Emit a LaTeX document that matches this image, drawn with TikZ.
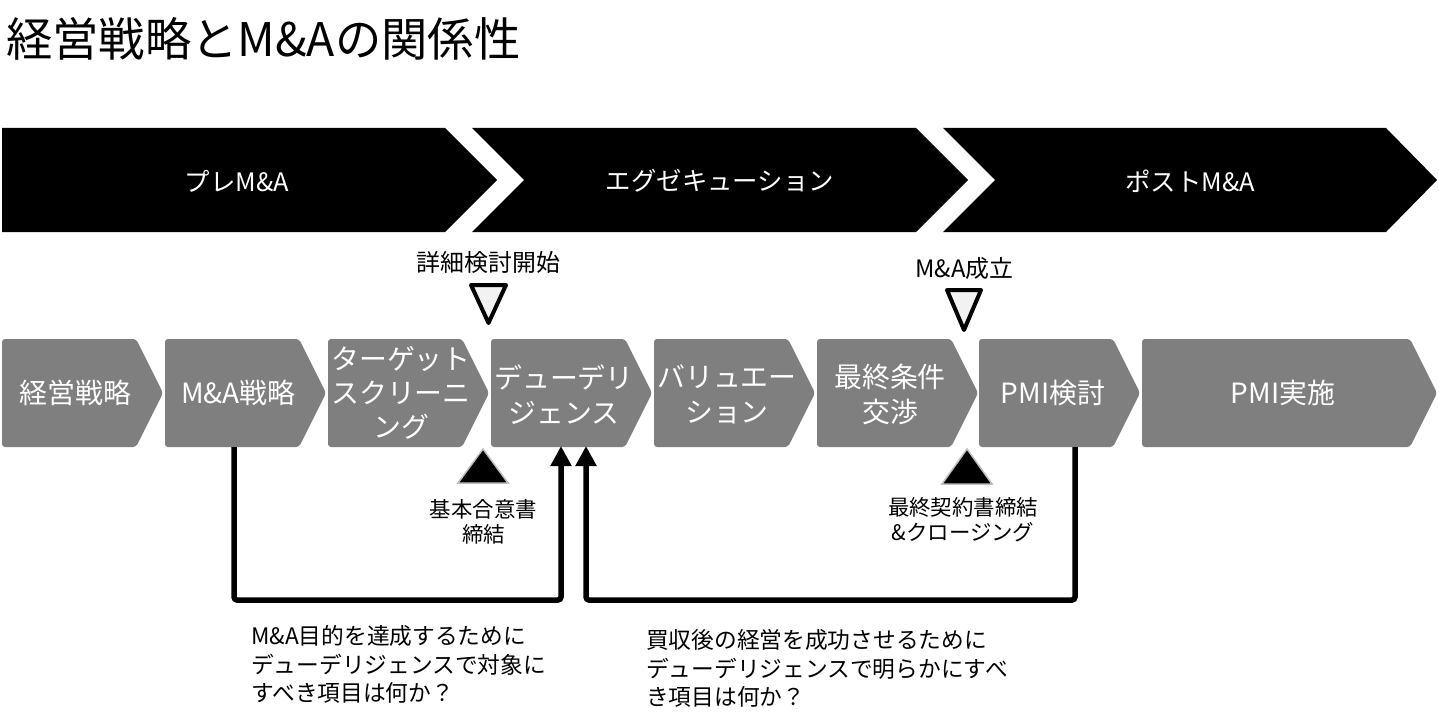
\documentclass[tikz,border=0pt]{standalone}
\usepackage{fontspec}
\newfontfamily\jp{Noto Sans CJK JP}
\usetikzlibrary{arrows.meta}
\definecolor{stagegray}{HTML}{7F7F7F}
\definecolor{trifill}{HTML}{F2F2F2}
\definecolor{trioutline}{HTML}{BFBFBF}
\newcommand\stagebox[3]{% #1 left, #2 tip x, #3 top-right x
  \fill[stage] (#1,339) -- (#3,339) -- (#2,393) -- (#3,447) -- (#1,447) -- cycle;}
\begin{document}
\begin{tikzpicture}[x=1bp,y=-1bp,
  phase/.style={fill=black},
  stage/.style={fill=stagegray, rounded corners=3bp},
  phaselbl/.style={font=\jp\fontsize{25.5}{30}\selectfont, text=white, inner sep=0},
  stagelbl/.style={font=\jp\fontsize{28}{34.5}\selectfont, text=white, align=center, inner sep=0},
  milelbl/.style={font=\jp\fontsize{24}{28}\selectfont, inner sep=0},
  sublbl/.style={font=\jp\fontsize{21.5}{25}\selectfont, align=center, inner sep=0},
  notelbl/.style={font=\jp\fontsize{22.8}{28.5}\selectfont, align=left, anchor=west, inner sep=0},
  opentri/.style={draw=black, fill=trifill, line width=4bp, line join=round},
  solidtri/.style={fill=black, draw=trioutline, line width=1.5bp},
  conn/.style={line width=5.5bp, rounded corners=3bp, -{Triangle[width=20bp,length=20bp]}}
]
\useasboundingbox (0,0) rectangle (1439,726);
\fill[white] (0,0) rectangle (1439,726);

% title
\node[font=\jp\fontsize{46.5}{52}\selectfont, anchor=west, inner sep=0] (title) at (6,39) {経営戦略とM\&Aの関係性};

% phase chevrons
\fill[phase] (2,128) -- (445,128) -- (497,180) -- (445,232) -- (2,232) -- cycle;
\fill[phase] (472,128) -- (916,128) -- (968,180) -- (916,232) -- (472,232) -- (524,180) -- cycle;
\fill[phase] (943,128) -- (1386,128) -- (1437,180) -- (1386,232) -- (943,232) -- (995,180) -- cycle;
\node[phaselbl] (p1) at (237,181) {プレM\&A};
\node[phaselbl] (p2) at (720,181) {エグゼキューション};
\node[phaselbl] (p3) at (1190,181) {ポストM\&A};

% stage boxes
\stagebox{2}{163}{136}
\stagebox{165}{326}{299}
\stagebox{328}{489}{462}
\stagebox{491}{652}{625}
\stagebox{654}{815}{788}
\stagebox{817}{978}{951}
\stagebox{979}{1140}{1113}
\stagebox{1142}{1437}{1410}
\node[stagelbl] (s1) at (75.5,393) {経営戦略};
\node[stagelbl] (s2) at (238.5,393) {M\&A戦略};
\node[stagelbl] (s3) at (401,393) {ターゲット\\スクリーニ\\ング};
\node[stagelbl] (s4) at (564,394.5) {デューデリ\\ジェンス};
\node[stagelbl] (s5) at (727,394.5) {バリュエー\\ション};
\node[stagelbl] (s6) at (890,394.5) {最終条件\\交渉};
\node[stagelbl] (s7) at (1053,393) {PMI検討};
\node[stagelbl] (s8) at (1283,393) {PMI実施};

% milestones above
\node[milelbl] (m1) at (488.5,262) {詳細検討開始};
\node[milelbl] (m2) at (964.5,268) {M\&A成立};
\draw[opentri] (471,285) -- (506,285) -- (488.5,323) -- cycle;
\draw[opentri] (947,290) -- (981,290) -- (964,330) -- cycle;

% milestones below
\filldraw[solidtri] (483,449) -- (508,483) -- (458,483) -- cycle;
\filldraw[solidtri] (967,449) -- (992,484) -- (942,484) -- cycle;
\node[sublbl] (k1) at (483.5,521.5) {基本合意書\\締結};
\node[sublbl] (k2) at (963,519.5) {最終契約書締結\\\&クロージング};

% connectors
\coordinate (a1s) at (234,447);
\coordinate (a1e) at (561,446);
\coordinate (a2s) at (1075,447);
\coordinate (a2e) at (586,446);
\draw[conn] (a1s) -- ++(0,153) -| (a1e);
\draw[conn] (a2s) -- ++(0,153) -| (a2e);

% notes
\node[notelbl] (n1) at (251,664.5) {M\&A目的を達成するために\\デューデリジェンスで対象に\\すべき項目は何か？};
\node[notelbl] (n2) at (646,668.5) {買収後の経営を成功させるために\\デューデリジェンスで明らかにすべ\\き項目は何か？};
\end{tikzpicture}
\end{document}
